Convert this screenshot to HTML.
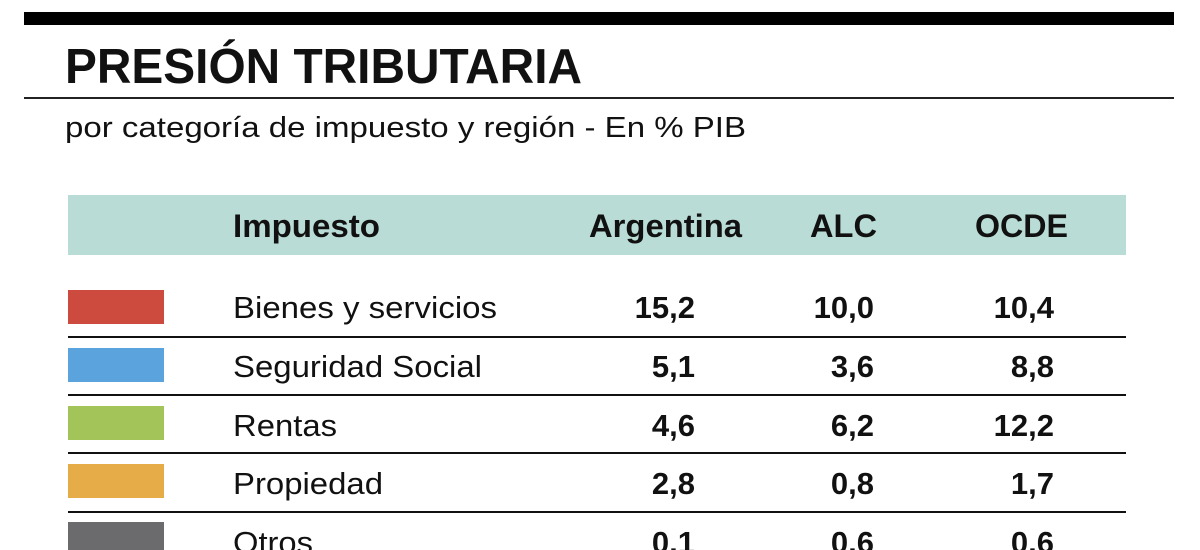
<!DOCTYPE html>
<html><head><meta charset="utf-8"><style>
html,body{margin:0;padding:0;background:#fff;width:1200px;height:550px;overflow:hidden}
svg{display:block}
text{font-family:"Liberation Sans",Arial,sans-serif;fill:#111}
</style></head><body>
<svg width="1200" height="550" viewBox="0 0 1200 550">
<rect x="24" y="12" width="1150" height="13" fill="#000"/>
<text x="65" y="83" font-size="49" font-weight="bold" textLength="517" lengthAdjust="spacingAndGlyphs">PRESIÓN TRIBUTARIA</text>
<rect x="24" y="97" width="1150" height="2" fill="#222"/>
<text x="65" y="137" font-size="29" textLength="681" lengthAdjust="spacingAndGlyphs">por categoría de impuesto y región - En % PIB</text>
<rect x="68" y="195" width="1058" height="60" fill="#b9dcd6"/>
<g font-size="32" font-weight="bold" fill="#222">
<text x="233" y="237" textLength="147" lengthAdjust="spacingAndGlyphs">Impuesto</text>
<text x="589" y="237" textLength="153" lengthAdjust="spacingAndGlyphs">Argentina</text>
<text x="810" y="237" textLength="67" lengthAdjust="spacingAndGlyphs">ALC</text>
<text x="975" y="237" textLength="93" lengthAdjust="spacingAndGlyphs">OCDE</text>
</g>
<rect x="68" y="290" width="96" height="34" fill="#cc4a3e"/>
<rect x="68" y="348" width="96" height="34" fill="#5ba3dc"/>
<rect x="68" y="406" width="96" height="34" fill="#a3c458"/>
<rect x="68" y="464" width="96" height="34" fill="#e5ac48"/>
<rect x="68" y="522" width="96" height="34" fill="#6b6b6d"/>
<g fill="#111">
<rect x="68" y="336" width="1058" height="2"/>
<rect x="68" y="394" width="1058" height="2"/>
<rect x="68" y="452" width="1058" height="2"/>
<rect x="68" y="511" width="1058" height="2"/>
</g>
<g font-size="31">
<text x="233" y="318" textLength="264" lengthAdjust="spacingAndGlyphs">Bienes y servicios</text>
<text x="233" y="377" textLength="249" lengthAdjust="spacingAndGlyphs">Seguridad Social</text>
<text x="233" y="436" textLength="104" lengthAdjust="spacingAndGlyphs">Rentas</text>
<text x="233" y="494" textLength="150" lengthAdjust="spacingAndGlyphs">Propiedad</text>
<text x="233" y="553" textLength="80" lengthAdjust="spacingAndGlyphs">Otros</text>
</g>
<g font-size="31" font-weight="bold" text-anchor="end">
<text x="695" y="318">15,2</text><text x="874" y="318">10,0</text><text x="1054" y="318">10,4</text>
<text x="695" y="377">5,1</text><text x="874" y="377">3,6</text><text x="1054" y="377">8,8</text>
<text x="695" y="436">4,6</text><text x="874" y="436">6,2</text><text x="1054" y="436">12,2</text>
<text x="695" y="494">2,8</text><text x="874" y="494">0,8</text><text x="1054" y="494">1,7</text>
<text x="695" y="553">0,1</text><text x="874" y="553">0,6</text><text x="1054" y="553">0,6</text>
</g>
</svg>
</body></html>
